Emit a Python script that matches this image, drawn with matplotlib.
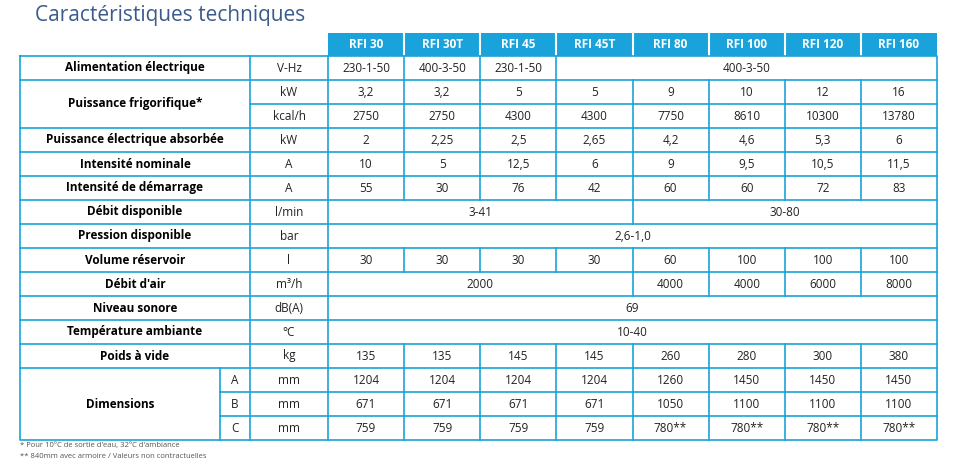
import matplotlib.pyplot as plt

models = ["RFI 30", "RFI 30T", "RFI 45", "RFI 45T", "RFI 80", "RFI 100", "RFI 120", "RFI 160"]

# each row: label, sub-label, unit, [(value, span), ...]
rows = [
    ("Alimentation électrique", "", "V-Hz", [("230-1-50", 1), ("400-3-50", 1), ("230-1-50", 1), ("400-3-50", 5)]),
    ("Puissance frigorifique*", "", "kW", [("3,2", 1), ("3,2", 1), ("5", 1), ("5", 1), ("9", 1), ("10", 1), ("12", 1), ("16", 1)]),
    ("", "", "kcal/h", [("2750", 1), ("2750", 1), ("4300", 1), ("4300", 1), ("7750", 1), ("8610", 1), ("10300", 1), ("13780", 1)]),
    ("Puissance électrique absorbée", "", "kW", [("2", 1), ("2,25", 1), ("2,5", 1), ("2,65", 1), ("4,2", 1), ("4,6", 1), ("5,3", 1), ("6", 1)]),
    ("Intensité nominale", "", "A", [("10", 1), ("5", 1), ("12,5", 1), ("6", 1), ("9", 1), ("9,5", 1), ("10,5", 1), ("11,5", 1)]),
    ("Intensité de démarrage", "", "A", [("55", 1), ("30", 1), ("76", 1), ("42", 1), ("60", 1), ("60", 1), ("72", 1), ("83", 1)]),
    ("Débit disponible", "", "l/min", [("3-41", 4), ("30-80", 4)]),
    ("Pression disponible", "", "bar", [("2,6-1,0", 8)]),
    ("Volume réservoir", "", "l", [("30", 1), ("30", 1), ("30", 1), ("30", 1), ("60", 1), ("100", 1), ("100", 1), ("100", 1)]),
    ("Débit d'air", "", "m³/h", [("2000", 4), ("4000", 1), ("4000", 1), ("6000", 1), ("8000", 1)]),
    ("Niveau sonore", "", "dB(A)", [("69", 8)]),
    ("Température ambiante", "", "°C", [("10-40", 8)]),
    ("Poids à vide", "", "kg", [("135", 1), ("135", 1), ("145", 1), ("145", 1), ("260", 1), ("280", 1), ("300", 1), ("380", 1)]),
    ("Dimensions", "A", "mm", [("1204", 1), ("1204", 1), ("1204", 1), ("1204", 1), ("1260", 1), ("1450", 1), ("1450", 1), ("1450", 1)]),
    ("", "B", "mm", [("671", 1), ("671", 1), ("671", 1), ("671", 1), ("1050", 1), ("1100", 1), ("1100", 1), ("1100", 1)]),
    ("", "C", "mm", [("759", 1), ("759", 1), ("759", 1), ("759", 1), ("780**", 1), ("780**", 1), ("780**", 1), ("780**", 1)]),
]
# label cells spanning several rows: (first row index, n rows)
label_spans = {1: 2, 13: 3}

notes = ["* Pour 10°C de sortie d'eau, 32°C d'ambiance",
         "** 840mm avec armoire / Valeurs non contractuelles"]

W, H = 967, 472
fig = plt.figure(figsize=(W / 100, H / 100), dpi=100)
ax = fig.add_axes([0, 0, 1, 1])
ax.set_xlim(0, W)
ax.set_ylim(H, 0)
ax.axis('off')

blue = '#1aa3da'
lw = 1.2
x_left, x_sub, x_unit, x_val = 20, 220, 250, 328
col_w = (937 - x_val) / 8
y_head, y0, rh = 33, 56, 24
x_right = x_val + 8 * col_w

fig.text(35 / W, 1 - 15 / H, "Caractéristiques techniques", fontsize=15,
         color='#3b5a8c', va='center', family='Open Sans')

# header
for i, m in enumerate(models):
    x = x_val + i * col_w
    ax.add_patch(plt.Rectangle((x, y_head), col_w, y0 - y_head, color=blue, lw=0))
    if i > 0:
        ax.plot([x, x], [y_head, y0], color='white', lw=1.5)
    ax.text(x + col_w / 2, (y_head + y0) / 2, m, ha='center', va='center',
            color='white', fontsize=8.5, fontweight='bold', family='Open Sans')

n = len(rows)
y_end = y0 + n * rh
ax.plot([x_left, x_right, x_right, x_left, x_left], [y0, y0, y_end, y_end, y0], color=blue, lw=lw)
ax.plot([x_unit, x_unit], [y0, y_end], color=blue, lw=lw)
ax.plot([x_val, x_val], [y0, y_end], color=blue, lw=lw)

covered = set()
for r, sp in label_spans.items():
    covered.update(range(r + 1, r + sp))

for r, (label, sub, unit, vals) in enumerate(rows):
    top = y0 + r * rh
    # row separator
    if r > 0:
        start = x_unit if r in covered else x_left
        if r in covered and sub:
            start = x_sub
        ax.plot([start, x_right], [top, top], color=blue, lw=lw)
    if label:
        span = label_spans.get(r, 1)
        lx_end = x_sub if sub else x_unit
        ax.text((x_left + lx_end) / 2, top + span * rh / 2, label, ha='center', va='center',
                fontsize=8.5, fontweight='bold', family='Open Sans')
    if sub:
        ax.plot([x_sub, x_sub], [top, top + rh], color=blue, lw=lw)
        ax.text((x_sub + x_unit) / 2, top + rh / 2, sub, ha='center', va='center',
                fontsize=8.5, family='Open Sans', color='#222222')
    ax.text((x_unit + x_val) / 2, top + rh / 2, unit, ha='center', va='center',
            fontsize=8.5, family='Open Sans', color='#222222')
    c = 0
    for v, span in vals:
        xs = x_val + c * col_w
        if c > 0:
            ax.plot([xs, xs], [top, top + rh], color=blue, lw=lw)
        ax.text(xs + span * col_w / 2, top + rh / 2, v, ha='center', va='center',
                fontsize=8.5, family='Open Sans', color='#222222')
        c += span

for i, t in enumerate(notes):
    ax.text(x_left, y_end + 6 + i * 10, t, fontsize=5.5, color='#555555',
            va='center', family='Open Sans')

fig.savefig('out.png', dpi=100)
